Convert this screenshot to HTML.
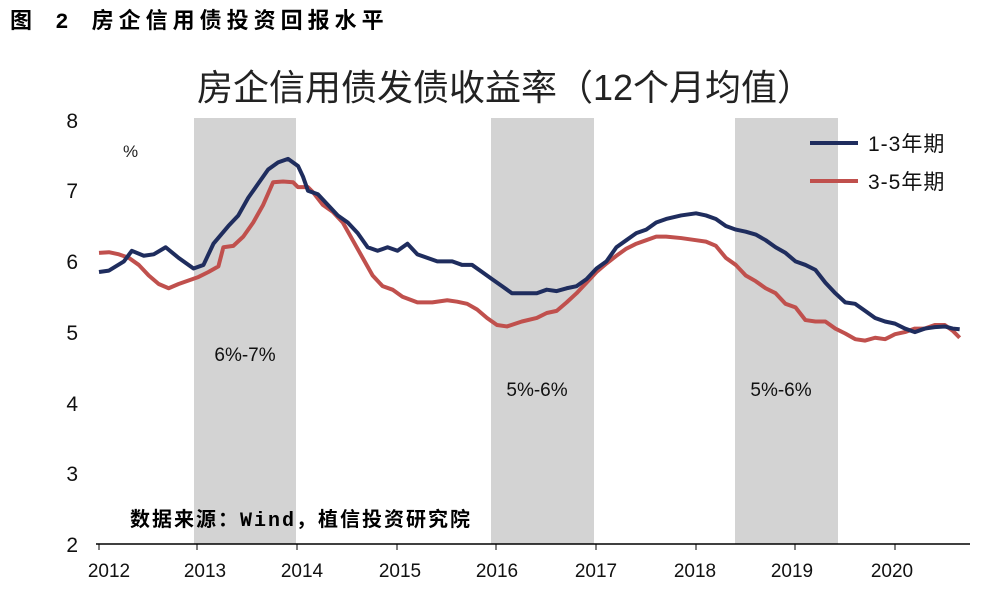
<!DOCTYPE html>
<html><head><meta charset="utf-8"><style>
body{margin:0;background:#fff;width:999px;height:591px;overflow:hidden}
svg{display:block}
</style></head><body>
<svg width="999" height="591" xmlns="http://www.w3.org/2000/svg" font-family="Liberation Sans, Noto Sans CJK SC, sans-serif">
<text x="10" y="28" font-size="22" font-weight="bold" letter-spacing="5" font-family="Liberation Mono, Noto Sans CJK SC, monospace">图 2 房企信用债投资回报水平</text>
<rect x="194" y="118" width="102" height="426" fill="#d3d3d3"/>
<rect x="491" y="118" width="103" height="426" fill="#d3d3d3"/>
<rect x="735" y="118" width="103" height="426" fill="#d3d3d3"/>
<text x="505" y="100" font-size="36" text-anchor="middle" fill="#222">房企信用债发债收益率（12个月均值）</text>
<g font-size="21" fill="#111" text-anchor="end">
<text x="78" y="128">8</text><text x="78" y="198">7</text><text x="78" y="269">6</text>
<text x="78" y="340">5</text><text x="78" y="411">4</text><text x="78" y="481">3</text><text x="78" y="552">2</text>
</g>
<text x="123" y="157" font-size="17" fill="#222">%</text>
<g font-size="19" fill="#111" text-anchor="middle">
<text x="245" y="361">6%-7%</text><text x="537" y="396">5%-6%</text><text x="781" y="396">5%-6%</text>
</g>
<line x1="96" y1="544" x2="970" y2="544" stroke="#000" stroke-width="1.5"/>
<g stroke="#000" stroke-width="1">
<line x1="99" y1="544" x2="99" y2="550"/><line x1="197" y1="544" x2="197" y2="550"/><line x1="297" y1="544" x2="297" y2="550"/>
<line x1="397" y1="544" x2="397" y2="550"/><line x1="496" y1="544" x2="496" y2="550"/><line x1="596" y1="544" x2="596" y2="550"/>
<line x1="696" y1="544" x2="696" y2="550"/><line x1="795" y1="544" x2="795" y2="550"/><line x1="895" y1="544" x2="895" y2="550"/>
</g>
<g font-size="19" fill="#111" text-anchor="middle">
<text x="109" y="577">2012</text><text x="205" y="577">2013</text><text x="302" y="577">2014</text>
<text x="400" y="577">2015</text><text x="497" y="577">2016</text><text x="596" y="577">2017</text>
<text x="695" y="577">2018</text><text x="792" y="577">2019</text><text x="892" y="577">2020</text>
</g>
<text x="130" y="526" font-size="20" font-weight="bold" letter-spacing="2" font-family="Liberation Mono, Noto Sans CJK SC, monospace">数据来源：Wind，植信投资研究院</text>
<g transform="translate(99,685.6) scale(99.5,-70.7)" fill="none" stroke-linejoin="round">
<polyline vector-effect="non-scaling-stroke" stroke="#c0504d" stroke-width="4" points="0,6.12 0.1,6.13 0.2,6.1 0.3,6.05 0.4,5.95 0.5,5.8 0.6,5.68 0.7,5.62 0.8,5.68 0.9,5.73 1.0,5.78 1.1,5.85 1.2,5.93 1.25,6.2 1.35,6.22 1.45,6.35 1.55,6.55 1.65,6.8 1.75,7.12 1.85,7.13 1.95,7.12 2.0,7.05 2.1,7.05 2.15,6.98 2.25,6.8 2.35,6.7 2.45,6.55 2.55,6.3 2.65,6.05 2.75,5.8 2.85,5.65 2.95,5.6 3.05,5.5 3.2,5.42 3.35,5.42 3.5,5.45 3.6,5.43 3.7,5.4 3.8,5.32 3.9,5.2 4.0,5.1 4.1,5.08 4.25,5.15 4.4,5.2 4.5,5.27 4.6,5.3 4.7,5.42 4.8,5.55 4.9,5.7 5.0,5.85 5.1,5.97 5.2,6.08 5.3,6.18 5.4,6.25 5.5,6.3 5.6,6.35 5.7,6.35 5.85,6.33 6.0,6.3 6.1,6.28 6.2,6.22 6.3,6.05 6.4,5.95 6.5,5.8 6.6,5.72 6.7,5.62 6.8,5.55 6.9,5.4 7.0,5.35 7.1,5.17 7.2,5.15 7.3,5.15 7.4,5.05 7.5,4.98 7.6,4.9 7.7,4.88 7.8,4.92 7.9,4.9 8.0,4.97 8.1,5.0 8.2,5.05 8.3,5.05 8.4,5.1 8.5,5.1 8.58,5.02 8.65,4.92"/>
<polyline vector-effect="non-scaling-stroke" stroke="#1f2d5e" stroke-width="4" points="0,5.85 0.1,5.87 0.25,6.0 0.33,6.15 0.45,6.08 0.55,6.1 0.67,6.2 0.8,6.05 0.95,5.9 1.05,5.95 1.15,6.25 1.3,6.5 1.4,6.65 1.5,6.9 1.6,7.1 1.7,7.3 1.8,7.4 1.9,7.45 2.0,7.35 2.05,7.2 2.1,7.0 2.2,6.95 2.3,6.8 2.4,6.65 2.5,6.55 2.6,6.4 2.7,6.2 2.8,6.15 2.9,6.2 3.0,6.15 3.1,6.25 3.2,6.1 3.3,6.05 3.4,6.0 3.55,6.0 3.65,5.95 3.75,5.95 3.85,5.85 3.95,5.75 4.05,5.65 4.15,5.55 4.3,5.55 4.4,5.55 4.5,5.6 4.6,5.58 4.7,5.62 4.8,5.65 4.9,5.75 5.0,5.9 5.1,6.0 5.2,6.2 5.3,6.3 5.4,6.4 5.5,6.45 5.6,6.55 5.7,6.6 5.85,6.65 6.0,6.68 6.1,6.65 6.2,6.6 6.3,6.5 6.4,6.45 6.5,6.42 6.6,6.38 6.7,6.3 6.8,6.2 6.9,6.12 7.0,6.0 7.1,5.95 7.2,5.88 7.3,5.7 7.4,5.55 7.5,5.42 7.6,5.4 7.7,5.3 7.8,5.2 7.9,5.15 8.0,5.12 8.1,5.05 8.2,5.0 8.3,5.05 8.4,5.07 8.5,5.08 8.58,5.05 8.65,5.04"/>
</g>
<line x1="810" y1="143" x2="858" y2="143" stroke="#1f2d5e" stroke-width="4"/>
<line x1="810" y1="181" x2="858" y2="181" stroke="#c0504d" stroke-width="4"/>
<text x="868" y="151" font-size="21" letter-spacing="1" fill="#111">1-3年期</text>
<text x="868" y="189" font-size="21" letter-spacing="1" fill="#111">3-5年期</text>
</svg>
</body></html>
